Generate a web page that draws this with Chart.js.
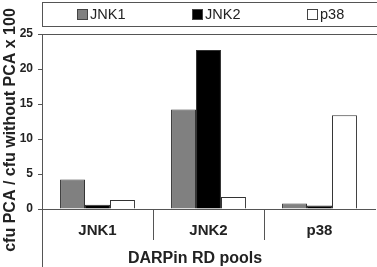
<!DOCTYPE html>
<html>
<head>
<meta charset="utf-8">
<script src="https://cdn.jsdelivr.net/npm/chart.js@4.4.1/dist/chart.umd.min.js"></script>
<style>
    html, body { margin: 0; padding: 0; background: #fff; }
    #wrap { width: 377px; height: 267px; }
</style>
</head>
<body>
<div id="wrap"><canvas id="chart" width="377" height="267"></canvas></div>
<script>
const pools = ["JNK1", "JNK2", "p38"];
const seriesNames = ["JNK1", "JNK2", "p38"];
const jnk1Values = [4.2, 14.2, 0.8];
const jnk2Values = [0.6, 22.7, 0.5];
const p38Values = [1.3, 1.7, 13.4];
const yTicks = [0, 5, 10, 15, 20, 25];

const yTitle = "cfu PCA / cfu without PCA x 100";
const xTitle = "DARPin RD pools";

const lineColor = "#555";
const textColor = "#222";

// frame, legend box, category dividers and axis titles
const decorations = {
    id: "decorations",
    afterDraw(chart) {
        const ctx = chart.ctx;
        const area = chart.chartArea;
        const x = chart.scales.x;
        ctx.save();
        ctx.strokeStyle = lineColor;
        ctx.lineWidth = 1;

        // top edge of plot and the long left rule
        ctx.beginPath();
        ctx.moveTo(area.left + 0.5, area.top + 0.5);
        ctx.lineTo(chart.width, area.top + 0.5);
        ctx.moveTo(area.left + 0.5, area.top);
        ctx.lineTo(area.left + 0.5, chart.height);
        // dividers between the pools, below the axis
        for (let i = 0; i < pools.length - 1; i++) {
            const bx = Math.round((x.getPixelForValue(i) + x.getPixelForValue(i + 1)) / 2) + 0.5;
            ctx.moveTo(bx, area.bottom);
            ctx.lineTo(bx, area.bottom + 31);
        }
        ctx.stroke();

        // legend box
        ctx.strokeRect(area.left + 0.5, 2.5, chart.width, 24);
        const starts = [77, 192, 307];
        ctx.font = "14.5px Arial, 'Liberation Sans', sans-serif";
        ctx.textBaseline = "middle";
        chart.data.datasets.forEach((ds, i) => {
            ctx.fillStyle = ds.backgroundColor;
            ctx.fillRect(starts[i] + 0.5, 9.5, 10, 10);
            ctx.strokeStyle = "#444";
            ctx.strokeRect(starts[i] + 0.5, 9.5, 10, 10);
            ctx.fillStyle = textColor;
            ctx.fillText(ds.label, starts[i] + 13, 15);
        });

        // axis titles
        ctx.fillStyle = textColor;
        ctx.font = "bold 16px Arial, 'Liberation Sans', sans-serif";
        ctx.textAlign = "center";
        ctx.textBaseline = "middle";
        ctx.fillText(xTitle, 195, 259);
        ctx.translate(11, 130);
        ctx.rotate(-Math.PI / 2);
        ctx.fillText(yTitle, 0, 0);
        ctx.restore();
    },
};

const ctx = document.getElementById("chart").getContext("2d");
new Chart(ctx, {
    type: "bar",
    data: {
        labels: pools,
        datasets: [
            { label: seriesNames[0], data: jnk1Values, backgroundColor: "#808080" },
            { label: seriesNames[1], data: jnk2Values, backgroundColor: "#000000" },
            { label: seriesNames[2], data: p38Values, backgroundColor: "#ffffff" },
        ].map((ds) => ({
            ...ds,
            borderColor: "#333",
            borderWidth: 1,
            categoryPercentage: 0.675,
            barPercentage: 1.0,
        })),
    },
    options: {
        responsive: false,
        animation: false,
        layout: { padding: { top: 34, right: 2, left: 0, bottom: 0 } },
        plugins: {
            legend: { display: false },
            tooltip: { enabled: false },
        },
        scales: {
            x: {
                afterFit: (scale) => { scale.height = 58; },
                grid: { display: false },
                border: { color: lineColor },
                ticks: {
                    color: textColor,
                    padding: 5,
                    font: { family: "Arial, 'Liberation Sans', sans-serif", size: 15, weight: "bold" },
                },
            },
            y: {
                min: 0,
                max: 25,
                afterFit: (scale) => { scale.width = 42; },
                afterBuildTicks: (scale) => {
                    scale.ticks = yTicks.map((v) => ({ value: v }));
                },
                grid: {
                    drawOnChartArea: false,
                    tickLength: 4,
                    color: lineColor,
                },
                border: { color: lineColor },
                ticks: {
                    color: textColor,
                    padding: 5,
                    font: { family: "Arial, 'Liberation Sans', sans-serif", size: 12, weight: "bold" },
                },
            },
        },
    },
    plugins: [decorations],
});
</script>
</body>
</html>
